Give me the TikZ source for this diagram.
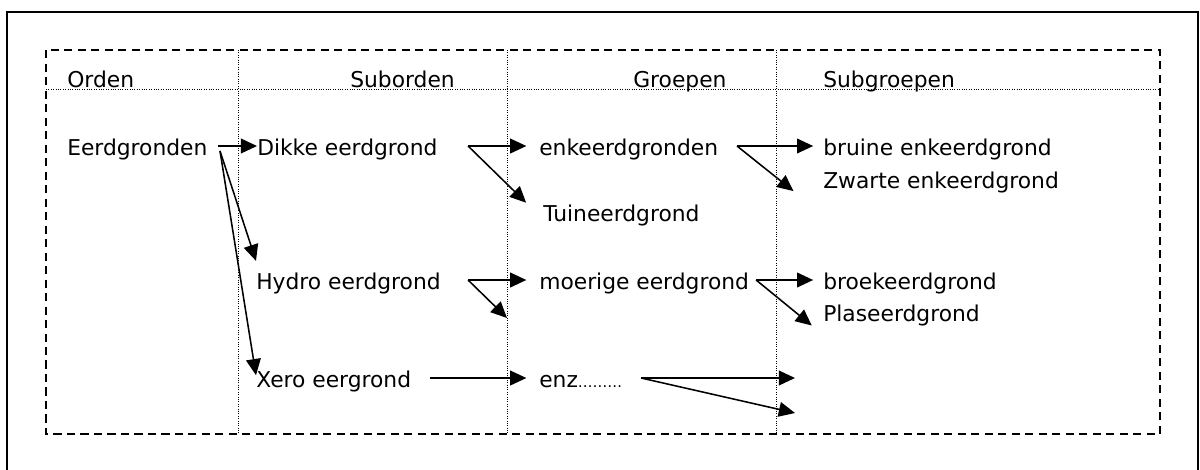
\documentclass[tikz,border=0pt]{standalone}
\usepackage{fontspec}
\setmainfont{DejaVu Sans}
\usetikzlibrary{arrows.meta}

\begin{document}
\begin{tikzpicture}[x=0.025cm, y=-0.025cm]

% styles
\tikzstyle{lbl}=[anchor=west, inner sep=0pt, text height=12.8pt, text depth=0pt, font=\fontsize{15.5}{19}\selectfont]
\tikzstyle{pijl}=[line width=1.1pt, -{Triangle[length=11.5pt, width=10.5pt]}]
\tikzstyle{kader}=[line width=1.4pt, dash pattern=on 5.7pt off 3.9pt]
\tikzstyle{stip}=[line width=0.7pt, dash pattern=on 0.7pt off 1pt]

\useasboundingbox (0,0) rectangle (1200,469);

% outer frame, runs off the bottom
\draw[line width=1.8pt] (7,490) -- (7,12) -- (1198,12) -- (1198,490);

% table
\draw[kader] (46,50) rectangle (1160,434);
\draw[stip] (46,89) -- (1160,89);
\foreach \x in {238,507,776}
  \draw[stip] (\x,50) -- (\x,434);

% header
\node[lbl] (orden) at (67,78) {Orden};
\node[lbl] (suborden) at (350,78) {Suborden};
\node[lbl] (groepen) at (633,78) {Groepen};
\node[lbl] (subgroepen) at (823,78) {Subgroepen};

% row 1
\node[lbl] (eerd) at (67,146) {Eerdgronden};
\node[lbl] (dikke) at (257,146) {Dikke eerdgrond};
\node[lbl] (enk) at (539,146) {enkeerdgronden};
\node[lbl] (tuin) at (543,212) {Tuineerdgrond};
\node[lbl] (bruin) at (823,146) {bruine enkeerdgrond};
\node[lbl] (zwart) at (823,179) {Zwarte enkeerdgrond};

% row 2
\node[lbl] (hydro) at (256,280) {Hydro eerdgrond};
\node[lbl] (moer) at (539,280) {moerige eerdgrond};
\node[lbl] (broek) at (823,280) {broekeerdgrond};
\node[lbl] (plas) at (823,312) {Plaseerdgrond};

% row 3
\node[lbl] (xero) at (256,378) {Xero eergrond};
\node[lbl] (enz) at (539,378) {enz{\fontsize{10.5}{12}\selectfont\dots\dots\dots}};

\coordinate (leeg1) at (507,318);
\coordinate (leeg2) at (795,378);
\coordinate (leeg3) at (795,413);

% orden -> suborden
\draw[pijl] ([xshift=107.4pt]eerd.west) -- (dikke.west);
\draw[pijl] ([xshift=108.8pt,yshift=-3.5pt]eerd.west) -- ([yshift=7pt]hydro.north west);
\draw[pijl] ([xshift=108.8pt,yshift=-3.5pt]eerd.west) -- ([yshift=2pt]xero.west);

% suborden -> groepen
\draw[pijl] ([xshift=150.1pt]dikke.west) -- ([xshift=-9pt]enk.west);
\draw[pijl] ([xshift=150.1pt]dikke.west) -- ([xshift=-12pt]tuin.north west);
\draw[pijl] ([xshift=150.8pt]hydro.west) -- ([xshift=-9pt]moer.west);
\draw[pijl] ([xshift=150.8pt]hydro.west) -- (leeg1);
\draw[pijl] ([xshift=123.8pt]xero.west) -- ([xshift=-9pt]enz.west);

% groepen -> subgroepen
\draw[pijl] ([xshift=140.8pt]enk.west) -- ([xshift=-7pt]bruin.west);
\draw[pijl] ([xshift=140.8pt]enk.west) -- ([xshift=-21pt,yshift=-2pt]zwart.south west);
\draw[pijl] ([xshift=154.4pt]moer.west) -- ([xshift=-7pt]broek.west);
\draw[pijl] ([xshift=154.4pt]moer.west) -- ([xshift=-8pt,yshift=-3pt]plas.south west);
\draw[pijl] ([xshift=72.6pt]enz.west) -- (leeg2);
\draw[pijl] ([xshift=72.6pt]enz.west) -- (leeg3);

\end{tikzpicture}
\end{document}
